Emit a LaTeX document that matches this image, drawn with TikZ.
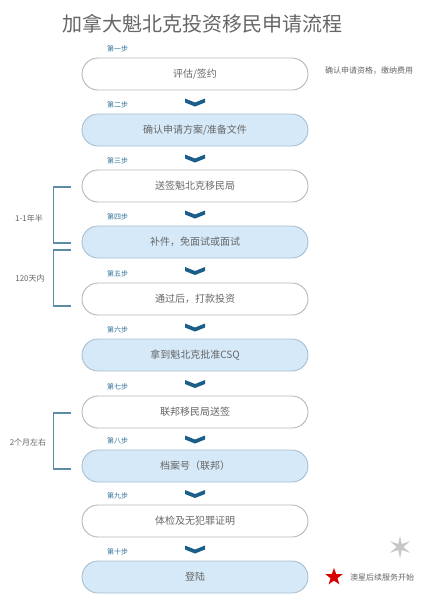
\documentclass[tikz,border=0pt]{standalone}
\usepackage{fontspec}
\setmainfont{Noto Sans CJK SC}
\usetikzlibrary{shapes.geometric,calc}
\definecolor{txtgray}{HTML}{666666}
\definecolor{stepblue}{HTML}{2E6E99}
\definecolor{chev}{HTML}{1B5E8A}
\definecolor{boxline}{HTML}{B4B8BC}
\definecolor{boxblue}{HTML}{D5E9F8}
\definecolor{bluline}{HTML}{A9BFCF}
\definecolor{brk}{HTML}{5C8BA6}
\tikzset{
  pill/.style={draw=boxline, line width=0.9pt, fill=white, rounded corners=16pt,
    minimum width=226pt, minimum height=32pt, inner sep=0pt,
    font=\fontsize{10}{12}\selectfont, text=txtgray},
  pillblue/.style={pill, fill=boxblue, draw=bluline},
  steplab/.style={anchor=west, inner sep=0pt, font=\fontsize{7}{8}\selectfont, text=stepblue},
  sidelab/.style={inner sep=0pt, font=\fontsize{8}{10}\selectfont, text=txtgray},
  bracket/.style={draw=brk, line width=1.3pt},
  chevshape/.pic={\fill[chev] (-10,-4) -- (0,0) -- (10,-4) -- (10,0) -- (0,4) -- (-10,0) -- cycle;}
}
\begin{document}
\begin{tikzpicture}[x=1pt,y=-1pt]
\useasboundingbox (0,0) rectangle (443,600);
\node[inner sep=0pt, font=\fontsize{20}{24}\selectfont, text=txtgray] (title) at (202,24) {加拿大魁北克投资移民申请流程};

\node[pill]     (b1)  at (195,74)  {评估/签约};
\node[pillblue] (b2)  at (195,130) {确认申请方案/准备文件};
\node[pill]     (b3)  at (195,186) {送签魁北克移民局};
\node[pillblue] (b4)  at (195,242) {补件，免面试或面试};
\node[pill]     (b5)  at (195,299) {通过后，打款投资};
\node[pillblue] (b6)  at (195,355) {拿到魁北克批准CSQ};
\node[pill]     (b7)  at (195,412) {联邦移民局送签};
\node[pillblue] (b8)  at (195,466) {档案号（联邦）};
\node[pill]     (b9)  at (195,521) {体检及无犯罪证明};
\node[pillblue] (b10) at (195,577) {登陆};

\foreach \b/\t in {b1/第一步,b2/第二步,b3/第三步,b4/第四步,b5/第五步,b6/第六步,b7/第七步,b8/第八步,b9/第九步,b10/第十步}{
  \node[steplab] (l\b) at ($(\b.center)+(-88,-25)$) {\t};
}
\foreach \a/\b in {b1/b2,b2/b3,b3/b4,b4/b5,b5/b6,b6/b7,b7/b8,b8/b9,b9/b10}{
  \pic at ($(\a.center)!0.5!(\b.center)+(0,0.5)$) {chevshape};
}

\node[sidelab, anchor=west] (n1) at (325,71) {确认申请资格，缴纳费用};

\draw[bracket] ($(b3.west)+(-11,1)$) -- ($(b3.west)+(-28,1)$) coordinate (k1) |- ($(b4.west)+(-11,1)$);
\node[sidelab] (t1) at (29,218) {1-1年半};
\draw[bracket] ($(b4.west)+(-11,8)$) -- ($(b4.west)+(-28,8)$) coordinate (k2) |- ($(b5.west)+(-11,7)$);
\node[sidelab] (t2) at (30,278) {120天内};
\draw[bracket] ($(b7.west)+(-11,1)$) -- ($(b7.west)+(-28,1)$) coordinate (k3) |- ($(b8.west)+(-11,3)$);
\node[sidelab] (t3) at (28,442) {2个月左右};

\fill[gray!45] (400,547) +(90:11.5)
  \foreach \i in {1,...,11}{ -- +({90+\i*30}:{mod(\i,2)==1 ? 3.4 : 11.5}) } -- cycle;
\fill[red!85!black] (334,577) +(-90:9)
  \foreach \i in {1,...,9}{ -- +({-90+\i*36}:{mod(\i,2)==1 ? 3.7 : 9}) } -- cycle;
\coordinate (gs) at (400,547);
\coordinate (rs) at (334,577);
\node[sidelab, anchor=west] (n2) at (350,577) {澳星后续服务开始};
\end{tikzpicture}
\end{document}
